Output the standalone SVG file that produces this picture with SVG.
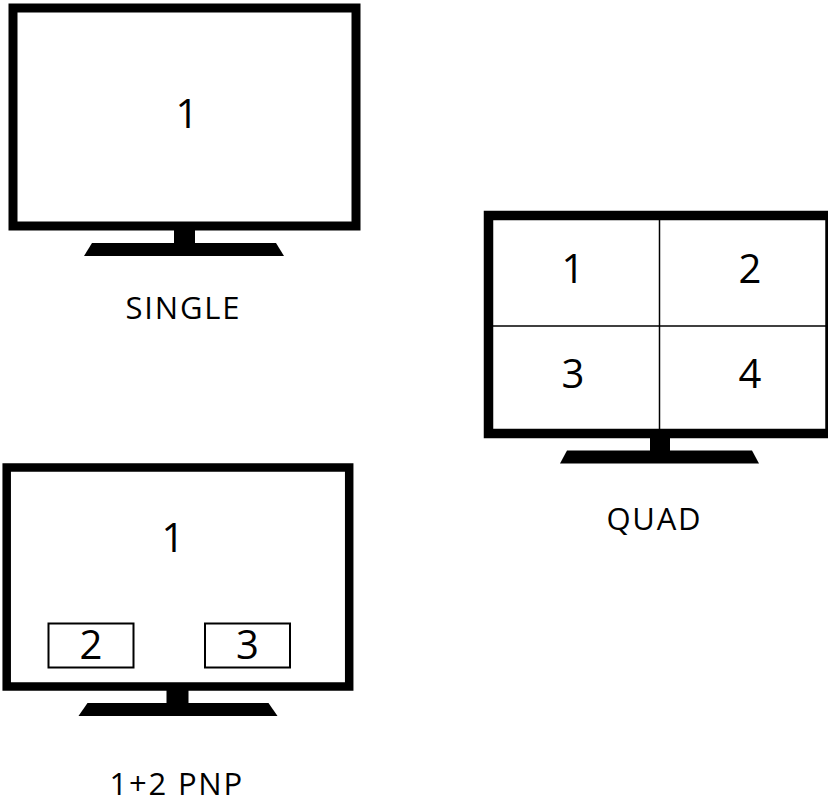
<svg xmlns="http://www.w3.org/2000/svg" width="828" height="803" viewBox="0 0 828 803">
  <style>
    .frame { fill: #ffffff; stroke: #000000; }
    .stand { fill: #000000; }
    .pip { fill: #ffffff; stroke: #000000; stroke-width: 2; }
    .divider { stroke: #000000; stroke-width: 1.5; }
    .num { font-family: "Open Sans", "Noto Sans", sans-serif; font-size: 40px; fill: #000000; text-anchor: middle; }
    .label { font-family: "Open Sans", "Noto Sans", sans-serif; font-size: 31px; letter-spacing: 1.8px; fill: #000000; text-anchor: middle; }
  </style>
  <rect width="828" height="803" fill="#ffffff"/>

  <!-- Single view monitor -->
  <g id="single">
    <rect class="frame" x="13" y="8" width="343" height="218" stroke-width="9"/>
    <rect class="stand" x="174" y="226" width="21" height="18"/>
    <polygon class="stand" points="92,243 276,243 284,256 84,256"/>
    <text class="num" x="187" y="128">1</text>
    <text class="label" x="183.4" y="319">SINGLE</text>
  </g>

  <!-- Quad view monitor -->
  <g id="quad">
    <rect class="frame" x="488.5" y="215.5" width="341.5" height="218" stroke-width="9.5"/>
    <line class="divider" x1="659.5" y1="220" x2="659.5" y2="430"/>
    <line class="divider" x1="493" y1="326" x2="826" y2="326"/>
    <rect class="stand" x="650" y="438" width="20" height="13"/>
    <polygon class="stand" points="567,450.5 752,450.5 759,463.5 560,463.5"/>
    <text class="num" x="573" y="283">1</text>
    <text class="num" x="750" y="283">2</text>
    <text class="num" x="573" y="388">3</text>
    <text class="num" x="750" y="388">4</text>
    <text class="label" x="654.4" y="530">QUAD</text>
  </g>

  <!-- Picture-in-picture monitor -->
  <g id="pnp">
    <rect class="frame" x="6.7" y="467.5" width="342.5" height="219" stroke-width="8.5"/>
    <rect class="stand" x="166.5" y="690" width="22" height="14"/>
    <polygon class="stand" points="87.5,703 268.5,703 277.5,716 78.5,716"/>
    <rect class="pip" x="48.5" y="623.5" width="85" height="44"/>
    <rect class="pip" x="205" y="623.5" width="85" height="44"/>
    <text class="num" x="173" y="552">1</text>
    <text class="num" x="91" y="659">2</text>
    <text class="num" x="247.5" y="659">3</text>
    <text class="label" x="176.7" y="795">1+2 PNP</text>
  </g>
</svg>
